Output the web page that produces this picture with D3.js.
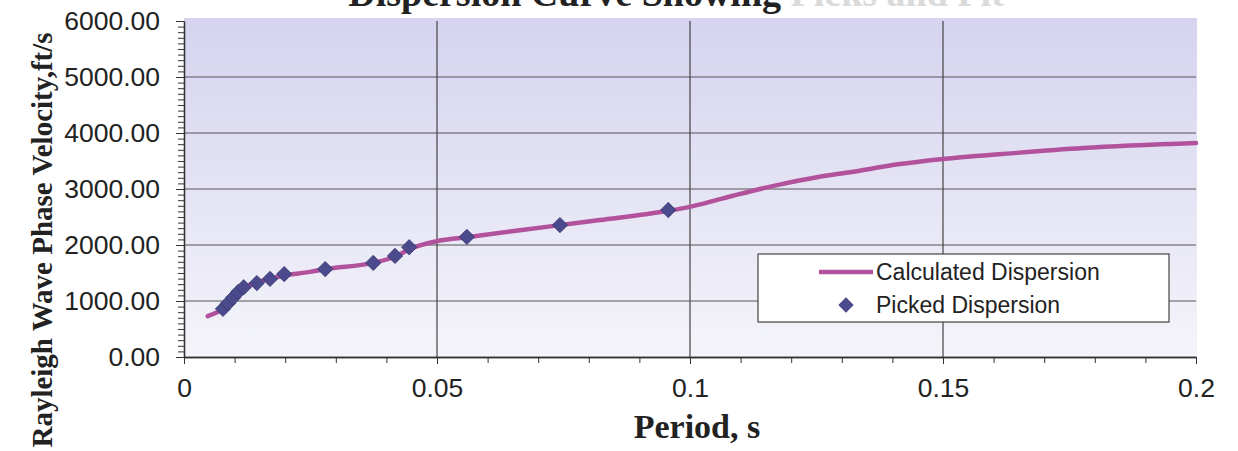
<!DOCTYPE html>
<html>
<head>
<meta charset="utf-8">
<script src="https://cdn.jsdelivr.net/npm/d3@7"></script>
<style>
  body { margin: 0; background: #fff; }
  svg { display: block; }
</style>
</head>
<body>
<svg></svg>
<script>
// calculated dispersion curve (period s, velocity ft/s)
const calcPeriod = [0.0047, 0.0077, 0.0121, 0.0144, 0.0198, 0.0249, 0.0279, 0.0374, 0.0419, 0.0447, 0.0506, 0.0559, 0.0743, 0.0822, 0.0957, 0.1004, 0.1085, 0.1172, 0.1251, 0.1316, 0.1415, 0.15, 0.1646, 0.1777, 0.2]
const calcVel = [730, 860, 1250, 1330, 1455, 1520, 1570, 1680, 1800, 1930, 2080, 2140, 2355, 2445, 2610, 2690, 2880, 3070, 3210, 3300, 3445, 3535, 3645, 3730, 3820]

// picked dispersion points
const pickPeriod = [0.0077, 0.0087, 0.0097, 0.0107, 0.0118, 0.0144, 0.0170, 0.0198, 0.0279, 0.0374, 0.0417, 0.0445, 0.0559, 0.0743, 0.0957]
const pickVel = [860, 960, 1060, 1160, 1245, 1320, 1395, 1480, 1570, 1680, 1805, 1960, 2145, 2355, 2625]

const xTicks = [0, 0.05, 0.1, 0.15, 0.2]
const yTicks = [0, 1000, 2000, 3000, 4000, 5000, 6000]
const seriesNames = ["Calculated Dispersion", "Picked Dispersion"]

let width = 1238
let height = 451
let plotLeft = 184, plotRight = 1196, plotTop = 21, plotBottom = 357

let svg = d3.select("svg").attr("width", width).attr("height", height)

let xScale = d3.scaleLinear().domain([0, 0.2]).range([plotLeft, plotRight])
let yScale = d3.scaleLinear().domain([0, 6000]).range([plotBottom, plotTop])

// plot background
let grad = svg.append("defs").append("linearGradient")
    .attr("id", "bg").attr("x1", 0).attr("y1", 0).attr("x2", 0).attr("y2", 1)
grad.append("stop").attr("offset", "0%").attr("stop-color", "#d5d3ef")
grad.append("stop").attr("offset", "100%").attr("stop-color", "#f4f4fa")

svg.append("rect")
    .attr("x", plotLeft).attr("y", plotTop - 3)
    .attr("width", plotRight - plotLeft + 1).attr("height", plotBottom - plotTop + 3)
    .attr("fill", "url(#bg)")

// title (top half is cut off in the scan)
let title = svg.append("text")
    .attr("x", 676).attr("y", 6)
    .attr("text-anchor", "middle")
    .style("font-family", "'Liberation Serif', serif")
    .style("font-weight", "bold")
    .style("font-size", "38px")
title.append("tspan").attr("fill", "#222").text("Dispersion Curve Showing ")
title.append("tspan").attr("fill", "#dadada").text("Picks and Fit")

// grid
svg.append("g").selectAll("line")
    .data(yTicks.filter(d => d > 0 && d < 6000))
    .enter().append("line")
    .attr("x1", plotLeft).attr("x2", plotRight)
    .attr("y1", d => yScale(d)).attr("y2", d => yScale(d))
    .attr("stroke", "#555").attr("stroke-width", 1.2)

svg.append("g").selectAll("line")
    .data(xTicks.filter(d => d > 0 && d < 0.2))
    .enter().append("line")
    .attr("x1", d => xScale(d)).attr("x2", d => xScale(d))
    .attr("y1", plotTop).attr("y2", plotBottom)
    .attr("stroke", "#444").attr("stroke-width", 1.2)

// axes
let xMinor = d3.axisBottom(xScale).tickValues(d3.range(0, 0.2001, 0.01)).tickSize(6).tickSizeOuter(0).tickFormat("")
let xAxis = d3.axisBottom(xScale).tickValues(xTicks).tickSize(7).tickSizeOuter(0).tickPadding(14)
    .tickFormat(d => d === 0 ? "0" : String(+d.toFixed(2)))
let yMinor = d3.axisLeft(yScale).tickValues(d3.range(0, 6001, 100)).tickSize(6).tickSizeOuter(0).tickFormat("")
let yAxis = d3.axisLeft(yScale).tickValues(yTicks).tickSize(8).tickSizeOuter(0).tickPadding(16).tickFormat(d3.format(".2f"))

let axisStyle = g => {
    g.selectAll("path").attr("stroke", "#333").attr("stroke-width", 1.3)
    g.selectAll("line").attr("stroke", "#333")
    g.selectAll("text")
        .attr("fill", "#222")
        .style("font-family", "'Liberation Sans', Arial, sans-serif")
        .style("font-size", "26.5px")
}

svg.append("g").attr("transform", "translate(0," + plotBottom + ")").call(xMinor).call(axisStyle)
svg.append("g").attr("id", "x-axis").attr("transform", "translate(0," + plotBottom + ")").call(xAxis).call(axisStyle)
svg.append("g").attr("transform", "translate(" + plotLeft + ",0)").call(yMinor).call(axisStyle)
svg.append("g").attr("id", "y-axis").attr("transform", "translate(" + plotLeft + ",0)").call(yAxis).call(axisStyle)

// axis titles
svg.append("text")
    .attr("x", 697).attr("y", 438)
    .attr("text-anchor", "middle")
    .style("font-family", "'Liberation Serif', serif")
    .style("font-weight", "bold")
    .style("font-size", "34px")
    .attr("fill", "#222")
    .text("Period, s")

svg.append("text")
    .attr("transform", "translate(52,240) rotate(-90)")
    .attr("text-anchor", "middle")
    .style("font-family", "'Liberation Serif', serif")
    .style("font-weight", "bold")
    .style("font-size", "29px")
    .attr("fill", "#222")
    .text("Rayleigh Wave Phase Velocity,ft/s")

// series
const lineColor = "#b3529c"
const pointColor = "#4a4a8c"

let calcData = calcPeriod.map((p, i) => [p, calcVel[i]])
let pickData = pickPeriod.map((p, i) => [p, pickVel[i]])

let line = d3.line()
    .x(d => xScale(d[0]))
    .y(d => yScale(d[1]))
    .curve(d3.curveMonotoneX)

svg.append("path")
    .datum(calcData)
    .attr("d", line)
    .attr("fill", "none")
    .attr("stroke", lineColor)
    .attr("stroke-width", 4.5)
    .attr("stroke-linecap", "round")

let diamond = d3.symbol().type(d3.symbolDiamond2).size(150)

svg.append("g").selectAll("path")
    .data(pickData)
    .enter().append("path")
    .attr("d", diamond)
    .attr("transform", d => "translate(" + xScale(d[0]) + "," + yScale(d[1]) + ")")
    .attr("fill", pointColor)
    .attr("stroke", "#3a3a70")
    .attr("stroke-width", 0.8)

// legend
let legend = svg.append("g").attr("transform", "translate(758,254)")
legend.append("rect")
    .attr("width", 411).attr("height", 68)
    .attr("fill", "#fff").attr("stroke", "#444").attr("stroke-width", 1.2)
legend.append("line")
    .attr("x1", 61).attr("x2", 115).attr("y1", 18).attr("y2", 18)
    .attr("stroke", lineColor).attr("stroke-width", 4.5)
legend.append("path")
    .attr("d", diamond)
    .attr("transform", "translate(88,51)")
    .attr("fill", pointColor)
legend.selectAll("text.lab")
    .data(seriesNames)
    .enter().append("text")
    .attr("class", "lab")
    .attr("x", 118)
    .attr("y", (d, i) => 18 + i * 33)
    .attr("dy", "0.35em")
    .style("font-family", "'Liberation Sans', Arial, sans-serif")
    .style("font-size", "23px")
    .attr("fill", "#222")
    .text(d => d)
</script>
</body>
</html>
